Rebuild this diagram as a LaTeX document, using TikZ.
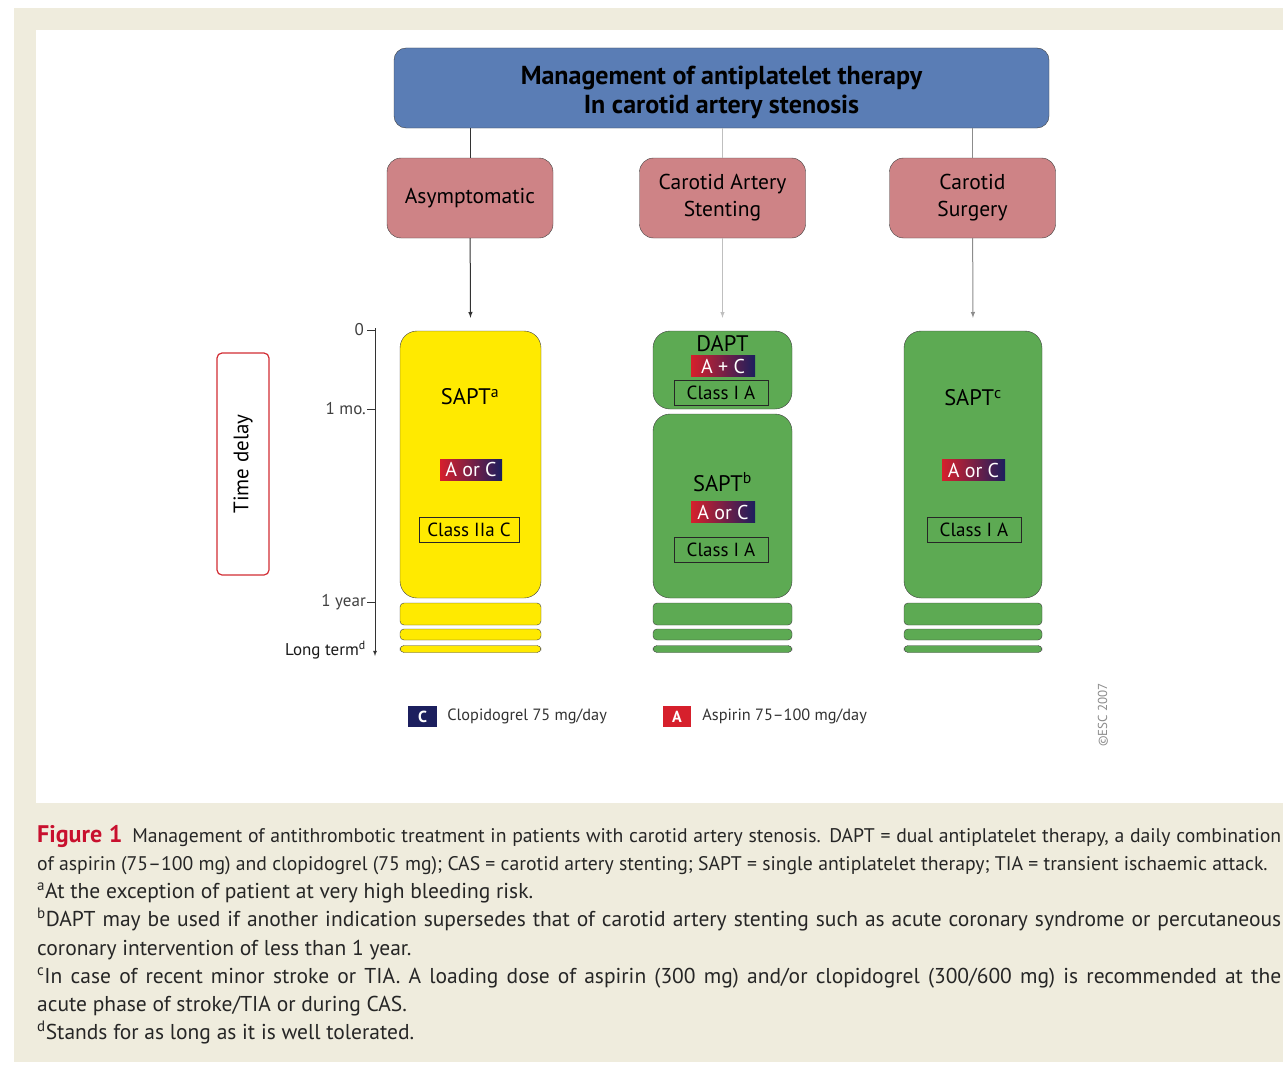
\documentclass[tikz,border=0pt]{standalone}
\usepackage{fontspec}
\setmainfont{PT Sans}
\usetikzlibrary{shapes,positioning}
\tikzset{>=latex}

\definecolor{pagebeige}{RGB}{239,236,221}
\definecolor{headblue}{RGB}{90,125,181}
\definecolor{catpink}{RGB}{206,131,134}
\definecolor{saptyellow}{RGB}{255,234,0}
\definecolor{saptgreen}{RGB}{93,170,83}
\definecolor{asared}{RGB}{214,32,44}
\definecolor{clonavy}{RGB}{28,31,94}
\definecolor{figred}{RGB}{200,16,46}
\definecolor{delayred}{RGB}{210,45,52}

\tikzset{
  headbox/.style={draw=black!75, fill=headblue, rounded corners=12pt, minimum width=655pt,
    minimum height=80pt},
  headtext/.style={align=center, inner sep=0pt, font=\bfseries\fontsize{26}{29}\selectfont},
  catbox/.style={draw=black!75, fill=catpink, rounded corners=14pt, minimum width=166pt,
    minimum height=80pt, align=center, font=\fontsize{21.5}{27}\selectfont},
  periodbox/.style={draw=black!75, rounded corners=17pt, inner sep=0pt},
  stripbox/.style={draw=black!75, rounded corners=4pt, inner sep=0pt},
  drugbadge/.style={left color=asared, right color=clonavy, text=white, minimum height=21pt,
    minimum width=62pt, inner sep=0pt, font=\fontsize{20}{20}\selectfont},
  classbox/.style={draw=black!85, line width=1pt, minimum height=25pt, minimum width=94pt,
    inner sep=0pt, font=\fontsize{19}{19}\selectfont},
  phase/.style={font=\fontsize{22.5}{22.5}\selectfont},
  axislabel/.style={left, text=black!75, inner sep=2pt, font=\fontsize{17}{17}\selectfont},
  keytext/.style={inner sep=0pt, text=black!80, font=\fontsize{16.3}{16.3}\selectfont},
  captionline/.style={anchor=west, inner sep=0pt, text height=15pt, text depth=5pt,
    font=\fontsize{21.5}{28}\selectfont, text=black!85},
}

\begin{document}
\begin{tikzpicture}[x=1pt,y=-1pt]

\useasboundingbox (0,0) rectangle (1283,1065);
\clip (0,0) rectangle (1283,1065);

% page and figure panel
\fill[white] (0,0) rectangle (1283,1065);
\fill[pagebeige] (14,8) rectangle (1283,1062);
\fill[white] (36,30) rectangle (1283,803);

% header and the three groups
\node[headbox] (head) at (721.5,88) {};
\node[headtext] (headtxt) at (721.5,92) {Management of antiplatelet therapy\\In carotid artery stenosis};

\node[catbox] (asym) at (470,198) {Asymptomatic};
\node[catbox] (cas) at (722.5,198) {Carotid Artery\\Stenting};
\node[catbox] (surg) at (972.5,198) {Carotid\\Surgery};

\draw[black!80, line width=1pt] (asym.north |- head.south) -- (asym.north);
\draw[black!25, line width=1pt] (cas.north |- head.south) -- (cas.north);
\draw[black!45, line width=1pt] (surg.north |- head.south) -- (surg.north);

% time axis
\draw[black!80, line width=0.8pt, ->] (375,328) -- (375,656);
\draw[black!80, line width=0.8pt] (367,330) -- (375,330);
\draw[black!80, line width=0.8pt] (367,409) -- (375,409);
\draw[black!80, line width=0.8pt] (367,602) -- (375,602);
\node[axislabel] (tzero) at (366,330) {0};
\node[axislabel] (tmonth) at (368,409) {1 mo.};
\node[axislabel] (tyear) at (368,602) {1 year};
\node[axislabel, text=black!90] (tlong) at (368,650) {Long term\textsuperscript{d}};

\node[draw=delayred, line width=1.2pt, fill=white, rounded corners=5pt, rotate=90,
  minimum width=222pt, minimum height=52pt, font=\fontsize{21}{21}\selectfont] (delay) at (243,464) {Time delay};

% asymptomatic column
\node[periodbox, fill=saptyellow, minimum width=141pt, minimum height=267pt] (sapta) at (470.5,464.5) {};
\node[phase] (saptalbl) at (470,397) {SAPT\textsuperscript{a}};
\node[drugbadge] (bada) at (471,469.5) {A or C};
\node[classbox, fill=saptyellow, minimum width=100pt] (classa) at (469,530) {Class IIa C};
\node[stripbox, fill=saptyellow, minimum width=141pt, minimum height=22pt] (stripa1) at (470.5,614) {};
\node[stripbox, fill=saptyellow, minimum width=141pt, minimum height=11pt] (stripa2) at (470.5,634.5) {};
\node[stripbox, fill=saptyellow, minimum width=141pt, minimum height=7pt] (stripa3) at (470.5,649) {};

% stenting column
\node[periodbox, fill=saptgreen, minimum width=139pt, minimum height=78pt] (dapt) at (722.5,370) {};
\node[phase] (daptlbl) at (722.5,344) {DAPT};
\node[drugbadge, minimum width=64pt] (badd) at (723,366) {A + C};
\node[classbox, fill=saptgreen] (classd) at (721,393) {Class I A};
\node[periodbox, fill=saptgreen, minimum width=139pt, minimum height=184pt] (saptb) at (722.5,506) {};
\node[phase] (saptblbl) at (722.5,482) {SAPT\textsuperscript{b}};
\node[drugbadge, minimum width=64pt] (badb) at (723,512) {A or C};
\node[classbox, fill=saptgreen] (classb) at (721,550) {Class I A};
\node[stripbox, fill=saptgreen, minimum width=139pt, minimum height=22pt] (stripb1) at (722.5,614) {};
\node[stripbox, fill=saptgreen, minimum width=139pt, minimum height=11pt] (stripb2) at (722.5,634.5) {};
\node[stripbox, fill=saptgreen, minimum width=139pt, minimum height=7pt] (stripb3) at (722.5,649) {};

% surgery column
\node[periodbox, fill=saptgreen, minimum width=138pt, minimum height=267pt] (saptc) at (973,464.5) {};
\node[phase] (saptclbl) at (973,398) {SAPT\textsuperscript{c}};
\node[drugbadge, minimum width=63pt] (badc) at (973.5,470) {A or C};
\node[classbox, fill=saptgreen] (classc) at (974,530) {Class I A};
\node[stripbox, fill=saptgreen, minimum width=138pt, minimum height=22pt] (stripc1) at (973,614) {};
\node[stripbox, fill=saptgreen, minimum width=138pt, minimum height=11pt] (stripc2) at (973,634.5) {};
\node[stripbox, fill=saptgreen, minimum width=138pt, minimum height=7pt] (stripc3) at (973,649) {};

% arrows into the columns
\draw[black!80, line width=1pt, ->, shorten >=13pt] (asym) -- (sapta.north);
\draw[black!25, line width=1pt, ->, shorten >=13pt] (cas) -- (dapt.north);
\draw[black!45, line width=1pt, ->, shorten >=13pt] (surg) -- (saptc.north);

% legend
\node[fill=clonavy, text=white, minimum width=29pt, minimum height=21pt, inner sep=0pt,
  font=\bfseries\fontsize{16}{16}\selectfont] (keyc) at (422.5,716.5) {C};
\node[keytext, right=10pt of keyc] (keyctxt) {Clopidogrel 75 mg/day};
\node[fill=asared, text=white, minimum width=28pt, minimum height=21pt, inner sep=0pt,
  font=\bfseries\fontsize{16}{16}\selectfont] (keya) at (677,716.5) {A};
\node[keytext, right=11pt of keya] (keyatxt) {Aspirin 75--100 mg/day};

\node[rotate=90, text=black!45, font=\fontsize{13}{13}\selectfont] (esc) at (1103,715) {©ESC 2007};

% caption
\node[captionline, font=\fontsize{19.7}{28}\selectfont] (cap1) at (37,837) {\makebox[1244pt][s]{\textcolor{figred}{\bfseries\fontsize{24}{28}\selectfont Figure 1}\enspace Management of antithrombotic treatment in patients with carotid artery stenosis. DAPT = dual antiplatelet therapy, a daily combination}};
\node[captionline, font=\fontsize{19.7}{28}\selectfont] (cap2) at (37,865) {of aspirin (75--100 mg) and clopidogrel (75 mg); CAS = carotid artery stenting; SAPT = single antiplatelet therapy; TIA = transient ischaemic attack.};
\node[captionline] (cap3) at (37,893) {\textsuperscript{a}At the exception of patient at very high bleeding risk.};
\node[captionline] (cap4) at (37,921) {\makebox[1244pt][s]{\textsuperscript{b}DAPT may be used if another indication supersedes that of carotid artery stenting such as acute coronary syndrome or percutaneous}};
\node[captionline] (cap5) at (37,950) {coronary intervention of less than 1 year.};
\node[captionline] (cap6) at (37,978) {\makebox[1244pt][s]{\textsuperscript{c}In case of recent minor stroke or TIA. A loading dose of aspirin (300 mg) and/or clopidogrel (300/600 mg) is recommended at the}};
\node[captionline] (cap7) at (37,1006) {acute phase of stroke/TIA or during CAS.};
\node[captionline] (cap8) at (37,1034) {\textsuperscript{d}Stands for as long as it is well tolerated.};

\end{tikzpicture}
\end{document}
